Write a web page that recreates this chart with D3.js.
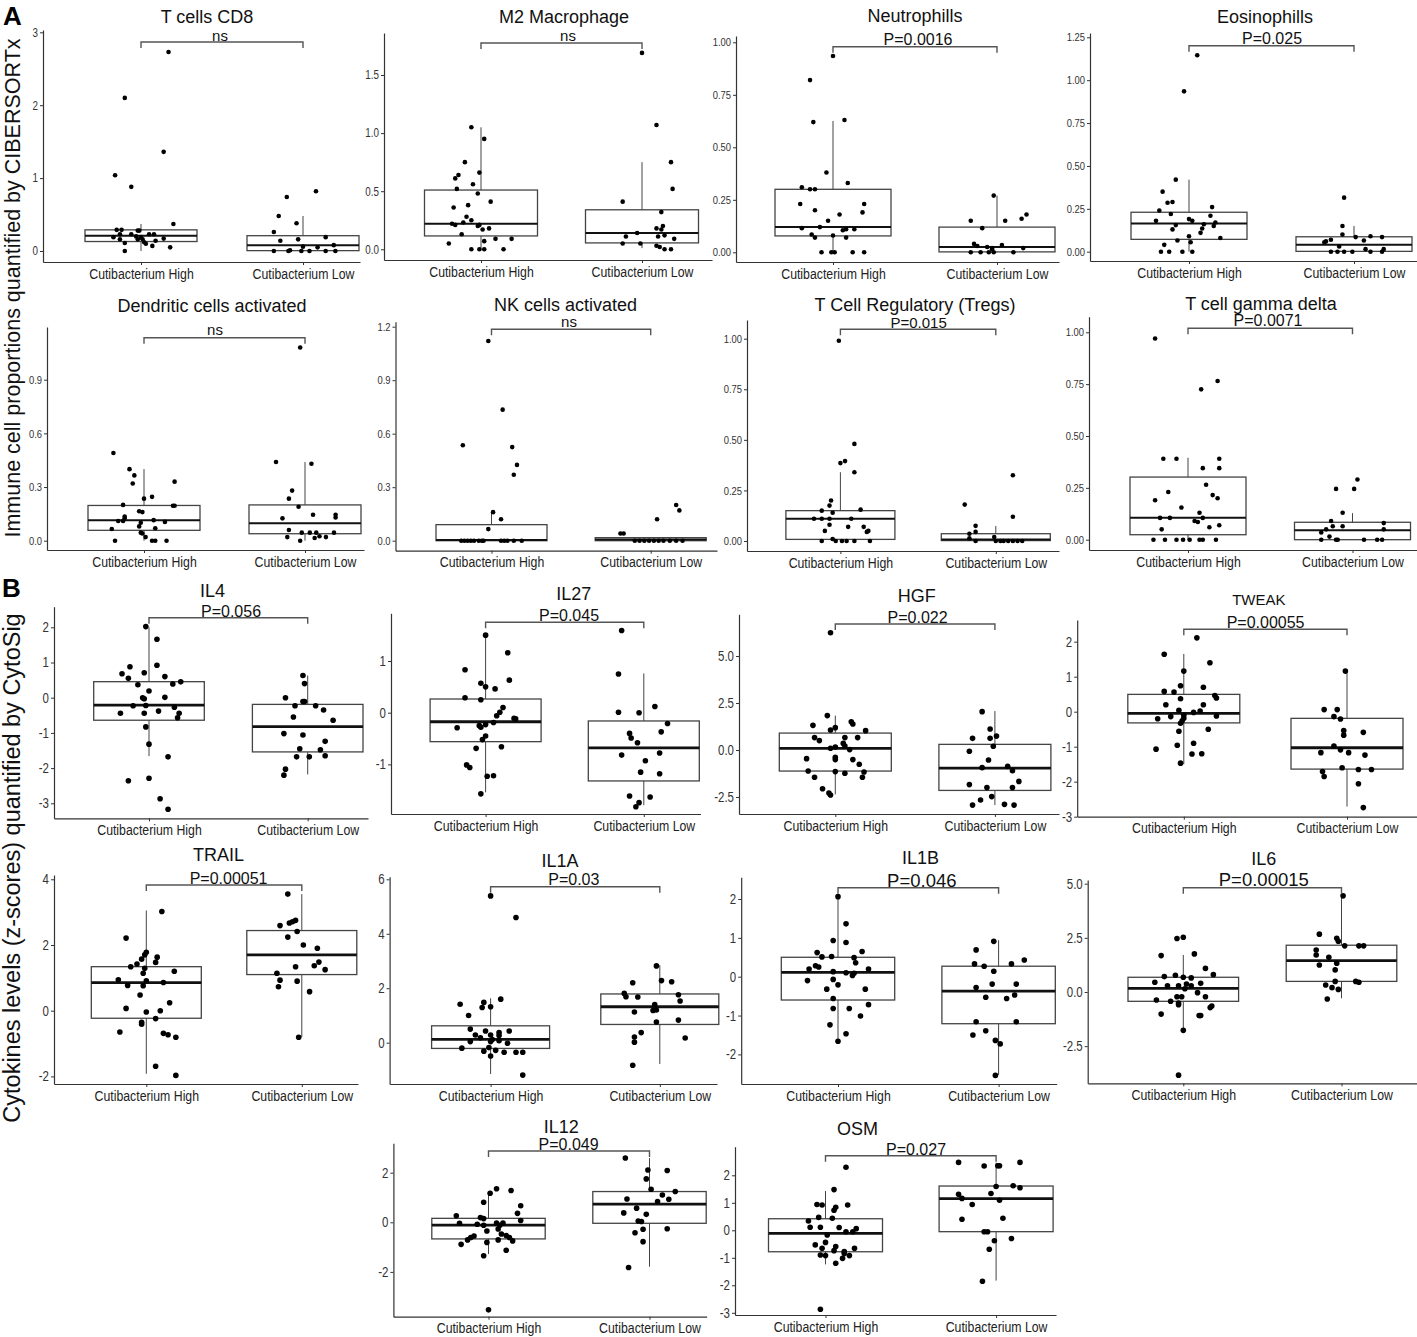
<!DOCTYPE html>
<html><head><meta charset="utf-8">
<script src="https://cdn.jsdelivr.net/npm/d3@7"></script>
<style>body{margin:0;background:#fff}svg{display:block}</style>
</head><body>
<svg id="c" width="1417" height="1337"></svg>
<script>
// ---------------- DATA ----------------
const categories = ["Cutibacterium High", "Cutibacterium Low"];
const panelTitles = ["T cells CD8","M2 Macrophage","Neutrophills","Eosinophills",
  "Dendritic cells activated","NK cells activated","T Cell Regulatory (Tregs)","T cell gamma delta",
  "IL4","IL27","HGF","TWEAK","TRAIL","IL1A","IL1B","IL6","IL12","OSM"];
const pValues = ["ns","ns","P=0.0016","P=0.025","ns","ns","P=0.015","P=0.0071",
  "P=0.056","P=0.045","P=0.022","P=0.00055","P=0.00051","P=0.03","P=0.046","P=0.00015","P=0.049","P=0.027"];
const yAxisTitleA = "Immune cell proportions quantified by CIBERSORTx";
const yAxisTitleB = "Cytokines levels (z-scores) quantified by CytoSig";

// tick values per panel
const cd8Ticks=[0,1,2,3], m2Ticks=[0,0.5,1,1.5], neutTicks=[0,0.25,0.5,0.75,1], eosTicks=[0,0.25,0.5,0.75,1,1.25];
const dendTicks=[0,0.3,0.6,0.9], nkTicks=[0,0.3,0.6,0.9,1.2], tregTicks=[0,0.25,0.5,0.75,1], gdTicks=[0,0.25,0.5,0.75,1];
const il4Ticks=[-3,-2,-1,0,1,2], il27Ticks=[-1,0,1], hgfTicks=[-2.5,0,2.5,5], tweakTicks=[-3,-2,-1,0,1,2];
const trailTicks=[-2,0,2,4], il1aTicks=[0,2,4,6], il1bTicks=[-2,-1,0,1,2], il6Ticks=[-2.5,0,2.5,5];
const il12Ticks=[-2,0,2], osmTicks=[-3,-2,-1,0,1,2];
const tickFormats=["d",".1f",".2f",".2f",".1f",".1f",".2f",".2f","d","d",".1f","d","d","d","d",".1f","d","d"];

// box stats per group: [lower whisker, q1, median, q3, upper whisker]
const cd8Box=[[0,.13,.21,.29,.37],[0,.005,.08,.21,.48]];
const m2Box=[[0,.115,.22,.51,1.05],[.01,.055,.14,.34,.75]];
const neutBox=[[0,.078,.12,.30,.625],[0,.002,.025,.12,.27]];
const eosBox=[[0,.072,.165,.23,.42],[0,.002,.04,.087,.15]];
const dendBox=[[0,.058,.115,.197,.40],[0,.039,.097,.20,.44]];
const nkBox=[[0,0,.004,.09,.16],[0,0,.007,.017,.017]];
const tregBox=[[0,.008,.11,.15,.34],[0,.002,.008,.036,.074]];
const gdBox=[[0,.024,.106,.302,.395],[0,0,.045,.084,.128]];
const il4Box=[[-1.66,-.64,-.21,.455,2.0],[-2.18,-1.54,-.82,-.19,.63]];
const il27Box=[[-1.54,-.56,-.175,.265,1.52],[-1.79,-1.32,-.68,-.16,.76]];
const hgfBox=[[-2.36,-1.12,.09,.9,1.83],[-2.93,-2.15,-.96,.3,2.07]];
const tweakBox=[[-1.5,-.32,-.05,.495,1.65],[-2.71,-1.64,-1.03,-.19,1.17]];
const trailBox=[[-1.92,-.23,.855,1.34,3.05],[-.80,1.10,1.70,2.44,3.55]];
const il1aBox=[[-1.15,-.21,.12,.62,1.63],[-.78,.67,1.32,1.79,2.85]];
const il1bBox=[[-1.67,-.6,.11,.5,2.02],[-2.53,-1.21,-.37,.27,.94]];
const il6Box=[[-1.73,-.43,.17,.68,1.71],[-.29,.49,1.45,2.16,4.44]];
const il12Box=[[-1.28,-.67,-.11,.16,1.17],[-1.79,-.04,.73,1.24,2.59]];
const osmBox=[[-1.24,-.78,-.11,.42,1.43],[-1.83,-.05,1.15,1.61,2.46]];

// points: [jitter offset in category units, value]
const cd8High=[[.17,2.73],[-.10,2.10],[.14,1.36],[-.16,1.04],[-.06,.88],[.20,.37],[-.15,.29],[-.12,.29],[-.02,.28],[-.01,.28],[-.13,.23],[-.06,.23],[.05,.23],[.08,.23],[-.17,.19],[-.03,.20],[0,.19],[.14,.17],[-.13,.16],[-.02,.16],[.01,.16],[.09,.14],[.02,.12],[-.10,.11],[.03,.10],[.07,.07],[.18,.05],[-.10,0]];
const cd8Low=[[.08,.82],[-.10,.74],[-.15,.48],[-.04,.38],[-.18,.26],[-.14,.14],[-.03,.16],[.14,.19],[0,.06],[.09,.05],[.19,.08],[-.18,0],[-.09,0],[-.01,0],[.04,0],[.14,0],[.20,0],[-.08,.01]];
const m2High=[[-.06,1.05],[.02,.95],[-.10,.75],[-.01,.66],[-.14,.64],[-.16,.61],[-.05,.56],[-.15,.52],[-.02,.48],[.06,.41],[-.08,.38],[-.17,.36],[-.09,.28],[-.06,.25],[-.18,.22],[-.16,.21],[-.11,.23],[-.02,.20],[-.01,.21],[.01,.17],[.05,.18],[-.12,.13],[.09,.09],[.19,.09],[.02,.07],[-.20,.05],[-.06,0],[-.01,0],[.02,0],[.14,0]];
const m2Low=[[0,1.69],[.09,1.07],[.18,.75],[.19,.52],[-.12,.41],[.12,.32],[-.03,.14],[-.10,.11],[.09,.18],[.13,.20],[.12,.17],[.14,.12],[.10,.11],[.20,.09],[-.12,.05],[-.01,.05],[.09,.03],[.11,.02],[.14,0],[.18,0]];
const neutHigh=[[0,.935],[-.14,.82],[-.12,.62],[.07,.63],[-.04,.38],[.09,.33],[-.19,.31],[-.14,.30],[-.11,.30],[-.20,.23],[.19,.23],[-.11,.20],[.18,.19],[.04,.18],[-.03,.15],[-.19,.115],[-.08,.12],[.08,.11],[.06,.105],[.13,.11],[-.13,.085],[-.11,.07],[0,.08],[.08,.07],[-.07,0],[-.01,0],[.01,0],[.12,0],[.19,0]];
const neutLow=[[-.02,.27],[-.16,.15],[.05,.15],[.18,.18],[.15,.16],[-.09,.115],[-.14,.04],[-.12,.03],[.03,.035],[-.06,.025],[-.03,.015],[-.03,.02],[.16,.02],[-.16,0],[-.10,0],[-.05,0],[-.02,0],[.10,0]];
const eosHigh=[[.05,1.145],[-.03,.935],[-.08,.42],[-.16,.35],[-.10,.29],[-.13,.285],[-.18,.24],[.14,.26],[-.11,.22],[.13,.21],[-.20,.18],[0,.19],[.02,.18],[.16,.17],[.09,.16],[.15,.15],[-.08,.155],[-.10,.13],[.08,.135],[.07,.11],[.19,.08],[0,.09],[-.07,.065],[.01,.055],[-.15,.04],[-.17,0],[-.12,0],[-.04,0],[.02,0]];
const eosLow=[[-.06,.315],[-.07,.15],[-.07,.10],[.01,.085],[.10,.09],[.17,.085],[-.14,.07],[-.17,.06],[-.18,.055],[.06,.065],[-.09,.03],[-.14,0],[-.10,0],[-.06,0],[-.01,0],[.07,.015],[.10,0],[.18,.015],[.17,0]];
const dendHigh=[[-.19,.49],[-.09,.40],[-.06,.365],[-.07,.32],[.19,.33],[0,.235],[.05,.245],[-.13,.20],[.18,.195],[.19,.195],[-.03,.165],[-.01,.16],[-.12,.135],[-.12,.125],[-.16,.11],[-.13,.11],[.06,.115],[.13,.105],[-.02,.10],[-.03,.08],[-.20,.065],[.07,.07],[-.02,.045],[-.01,.04],[.01,.02],[-.18,0],[.05,0],[.07,0],[.14,0]];
const dendLow=[[-.03,1.08],[-.18,.44],[.04,.43],[-.08,.28],[-.10,.235],[-.04,.19],[.05,.145],[.19,.145],[.19,.13],[-.14,.125],[-.10,.06],[-.02,.045],[.03,.045],[.07,.045],[.18,.045],[-.11,.02],[.09,.025],[.06,.015],[.13,.02],[-.03,0]];
const nkHigh=[[-.02,1.12],[.07,.735],[-.18,.535],[.13,.525],[.16,.425],[.14,.37],[.01,.16],[.06,.12],[-.02,.065],[-.19,0],[-.15,0],[-.11,0],[-.08,0],[-.05,0],[.06,0],[.10,0],[.14,0],[.19,0],[-.17,0],[-.13,0],[-.06,0],[.08,0]];
const nkLow=[[.16,.20],[.18,.17],[.04,.12],[-.19,.04],[-.17,.04],[-.10,0],[-.07,0],[-.04,0],[-.01,0],[.02,0],[.05,0],[.08,0],[.12,0],[.16,0],[.20,0]];
const tregHigh=[[-.01,.99],[.09,.48],[.03,.395],[0,.385],[.09,.34],[-.06,.20],[-.07,.175],[-.12,.15],[.13,.155],[-.05,.14],[-.17,.11],[-.12,.11],[-.07,.11],[.07,.11],[-.07,.08],[.05,.07],[.15,.07],[-.10,.05],[.17,.045],[.18,.05],[-.05,.01],[-.12,0],[-.03,0],[.01,0],[.04,0],[.09,0],[.19,0]];
const tregLow=[[.11,.325],[-.20,.18],[.11,.12],[-.13,.075],[-.17,.036],[-.13,.045],[-.17,.013],[-.01,.02],[-.13,0],[0,0],[.03,0],[.05,0],[.08,0],[.11,0],[.14,0],[.17,0]];
const gdHigh=[[-.20,.97],[.18,.765],[.08,.725],[-.15,.39],[-.07,.39],[.19,.39],[.09,.345],[.19,.345],[.11,.265],[-.12,.23],[.15,.215],[.18,.20],[-.20,.19],[-.04,.155],[.07,.13],[-.17,.105],[-.11,.105],[.09,.105],[.04,.09],[.06,.085],[.19,.07],[.13,.06],[-.16,.05],[-.21,0],[-.14,0],[-.07,0],[-.03,0],[.01,0],[.07,0],[.09,0],[.17,0]];
const gdLow=[[.03,.29],[-.10,.245],[.01,.245],[-.06,.13],[-.13,.09],[.19,.08],[-.12,.065],[-.06,.065],[-.16,.05],[.19,.05],[-.19,.035],[-.14,.015],[-.19,0],[-.10,0],[-.09,0],[.07,0],[.15,0],[.18,0]];
const il4High=[[-.02,2.02],[.05,1.66],[-.12,.88],[.05,.92],[-.17,.68],[-.03,.71],[-.13,.55],[.10,.60],[-.07,.37],[.15,.39],[.20,.45],[0,.19],[-.04,0],[-.03,-.03],[.10,.01],[-.10,-.23],[-.02,-.22],[.16,-.27],[.06,-.38],[-.18,-.44],[-.03,-.44],[.19,-.44],[.18,-.57],[-.02,-.83],[0,-1.32],[.12,-1.68],[0,-2.29],[-.13,-2.36],[.07,-2.87],[.12,-3.17]];
const il4Low=[[-.03,.63],[-.02,.40],[-.14,0],[-.03,-.11],[-.02,-.11],[-.08,-.23],[.05,-.23],[.10,-.35],[-.09,-.55],[.16,-.64],[-.15,-1.02],[-.03,-1.06],[.11,-1.24],[-.05,-1.45],[.08,-1.48],[-.07,-1.68],[.01,-1.68],[.11,-1.65],[-.14,-2.03],[-.15,-2.2]];
const il27High=[[0,1.50],[.14,1.16],[-.13,.83],[.15,.63],[-.03,.57],[0,.50],[.06,.46],[-.13,.29],[-.03,.25],[.11,.10],[.09,.01],[.07,-.06],[.18,-.11],[.19,-.12],[.05,-.19],[0,-.23],[-.04,-.25],[-.03,-.28],[-.18,-.29],[0,-.45],[-.02,-.52],[.10,-.66],[-.06,-.69],[-.12,-1.01],[-.10,-1.06],[.01,-1.23],[.05,-1.22],[-.03,-1.57]];
const il27Low=[[-.14,1.59],[-.16,.75],[-.16,.01],[-.03,0],[.07,.12],[.15,-.21],[.11,-.37],[-.09,-.40],[-.08,-.49],[-.04,-.58],[.10,-.78],[-.14,-.82],[.01,-.93],[-.02,-1.15],[.10,-1.18],[-.09,-1.61],[.04,-1.63],[-.03,-1.74],[-.05,-1.82]];
const hgfHigh=[[-.03,6.24],[-.05,1.83],[-.14,1.31],[.10,1.5],[.11,1.38],[0,1.19],[-.03,1.06],[.19,1.03],[-.13,.66],[-.10,.5],[.06,.66],[.14,.66],[.05,.35],[.06,.21],[-.03,.09],[0,.16],[.09,.02],[-.18,-.46],[0,-.39],[0,-.51],[.11,-.51],[.15,-.76],[-.17,-1.12],[0,-1.15],[.06,-1.24],[.18,-1.17],[-.13,-1.45],[.17,-1.45],[-.08,-2.06],[-.04,-2.29],[-.03,-2.39]];
const hgfLow=[[-.08,2.04],[-.03,1.12],[-.14,.62],[-.03,.62],[.01,.74],[-.01,.20],[-.16,-.07],[-.04,-.53],[-.08,-.94],[.08,-.87],[.11,-1.1],[.15,-1.67],[-.16,-1.84],[-.05,-2.0],[.11,-2.0],[-.02,-2.48],[-.09,-2.66],[-.14,-2.93],[.06,-2.89],[.12,-2.93]];
const tweakHigh=[[.08,2.11],[-.12,1.64],[0,1.16],[.16,1.4],[-.02,.74],[.12,.70],[-.12,.58],[-.06,.56],[.19,.46],[.20,.39],[-.02,.37],[-.11,.2],[.12,.2],[-.03,.04],[.10,.02],[.06,-.02],[0,-.1],[.20,-.12],[-.08,-.14],[-.16,-.2],[0,-.19],[-.01,-.26],[-.02,-.33],[.15,-.5],[-.03,-.56],[.06,-.9],[-.04,-.96],[-.17,-1.07],[.05,-1.21],[.11,-1.2],[-.02,-1.47]];
const tweakLow=[[-.01,1.16],[-.14,.06],[-.06,.06],[-.08,-.14],[-.04,-.21],[-.02,-.54],[.10,-.59],[-.02,-.67],[-.08,-.98],[-.04,-1.09],[-.16,-1.17],[.01,-1.17],[.11,-1.24],[-.03,-1.6],[.07,-1.65],[.15,-1.65],[-.15,-1.71],[-.14,-1.85],[.07,-2.06],[.10,-2.74]];
const trailHigh=[[.10,3.02],[-.13,2.21],[0,1.78],[-.01,1.70],[.07,1.63],[-.03,1.57],[.06,1.47],[-.06,1.42],[-.10,1.34],[-.01,1.29],[.18,1.2],[-.02,1.14],[-.18,.94],[0,.91],[.11,.86],[-.12,.77],[-.02,.76],[-.04,.48],[.15,.24],[-.13,.07],[.09,0],[0,-.04],[.06,-.24],[-.03,-.35],[-.03,-.41],[-.17,-.65],[.11,-.69],[.14,-.73],[.19,-.81],[.06,-1.69],[.19,-1.97]];
const trailLow=[[-.09,3.55],[-.14,2.59],[-.08,2.67],[-.06,2.71],[-.04,2.75],[-.03,2.41],[-.09,2.24],[.01,2.0],[.10,1.90],[.11,1.48],[.08,1.37],[-.04,1.34],[.15,1.25],[-.16,1.14],[-.14,.93],[-.03,.9],[-.15,.73],[.05,.58],[-.02,-.81]];
const il1aHigh=[[0,5.39],[.15,4.6],[.06,1.6],[-.04,1.48],[-.18,1.41],[0,1.32],[-.05,1.29],[-.13,1.0],[-.12,.5],[-.03,.43],[.05,.37],[.11,.43],[-.09,.28],[0,.28],[.05,.26],[-.06,.18],[-.12,.04],[.01,.12],[.05,.07],[0,.04],[.10,-.02],[-.17,-.2],[-.01,-.18],[-.04,-.31],[.03,-.28],[.08,-.35],[.15,-.35],[.19,-.35],[0,-.49],[.19,-1.19]];
const il1aLow=[[-.02,2.82],[-.16,2.2],[.01,2.28],[.07,2.24],[-.21,1.81],[-.13,1.68],[.11,1.76],[-.20,1.69],[-.03,1.4],[.12,1.53],[-.15,1.13],[-.04,1.18],[-.02,1.2],[.11,.83],[-.02,.76],[-.11,.37],[-.15,.21],[.15,.17],[-.15,.02],[-.16,-.83]];
const il1bHigh=[[0,2.06],[.05,1.36],[-.03,.93],[.05,.88],[-.13,.62],[.15,.65],[-.04,.52],[-.10,.51],[.10,.49],[.11,.36],[-.14,.28],[-.12,.25],[-.18,.2],[.19,.2],[-.03,.13],[.05,.1],[.10,.09],[.09,.03],[-.03,-.07],[-.19,-.1],[0,-.21],[-.07,-.32],[.17,-.32],[-.03,-.56],[-.03,-.82],[.19,-.72],[.07,-.82],[.14,-1.01],[-.05,-1.24],[.05,-1.47],[0,-1.66]];
const il1bLow=[[-.03,.91],[-.14,.69],[.16,.43],[-.15,.33],[.08,.33],[-.09,.27],[-.03,.14],[-.04,-.19],[.11,-.19],[-.14,-.28],[.10,-.47],[-.08,-.53],[.05,-.56],[-.14,-1.16],[.11,-1.16],[-.08,-1.39],[-.16,-1.5],[-.02,-1.64],[.01,-1.73],[-.02,-2.54]];
const il6High=[[-.04,2.47],[0,2.53],[-.14,1.68],[.07,1.76],[.14,1.09],[.19,.80],[-.12,.71],[-.05,.77],[0,.68],[.05,.65],[-.18,.45],[.11,.4],[-.10,.29],[-.03,.29],[.02,.37],[.05,.29],[.01,.15],[.09,-.03],[-.04,-.22],[-.01,-.22],[.14,-.22],[-.17,-.37],[-.08,-.43],[-.03,-.51],[-.03,-.59],[.17,-.72],[.18,-.65],[-.14,-1.02],[.10,-1.09],[.11,-1.09],[0,-1.77],[-.03,-3.84]];
const il6Low=[[.01,4.44],[-.14,2.67],[-.03,2.48],[-.02,2.34],[.02,2.13],[.11,2.13],[.14,2.13],[-.16,1.94],[-.16,1.71],[-.08,1.6],[-.14,1.25],[-.03,1.33],[-.04,1.02],[.09,.49],[-.04,.49],[.11,.45],[-.10,.32],[-.06,.2],[-.02,.12],[-.09,-.32]];
const il12High=[[.05,1.35],[.14,1.28],[.01,1.17],[-.03,.81],[.20,.67],[.18,.36],[-.20,.26],[-.05,.19],[-.03,.15],[.20,.07],[-.18,-.04],[.05,-.03],[.09,-.03],[-.07,-.08],[-.03,-.12],[.07,-.12],[.06,-.27],[-.01,-.35],[.08,-.47],[.11,-.53],[.13,-.61],[-.11,-.61],[-.09,-.55],[-.13,-.71],[.06,-.71],[.15,-.75],[-.01,-.81],[-.17,-.89],[.11,-1.13],[-.03,-1.35],[0,-3.53]];
const il12Low=[[-.15,2.59],[-.01,2.11],[.11,2.09],[-.02,1.75],[.01,1.33],[.16,1.24],[.08,1.10],[-.14,.94],[.12,.93],[.05,.84],[-.08,.57],[-.16,.38],[-.02,.32],[-.07,.05],[-.05,.03],[.11,-.26],[-.04,-.28],[-.09,-.42],[-.04,-.78],[-.13,-1.82]];
const osmHigh=[[.12,2.29],[.05,1.48],[-.05,.94],[-.02,.92],[.13,.92],[.06,.84],[.05,.73],[-.04,.47],[.04,.44],[-.10,.34],[-.03,.11],[-.09,.11],[.08,.1],[.18,.06],[.16,-.05],[.12,-.05],[.01,-.17],[0,-.44],[-.06,-.53],[.06,-.59],[.17,-.65],[-.02,-.65],[.05,-.74],[.11,-.77],[.11,-.84],[-.03,-.9],[0,-.92],[.14,-.92],[.10,-1.02],[.06,-1.2],[-.03,-2.87]];
const osmLow=[[-.22,2.47],[.14,2.47],[-.07,2.34],[.01,2.35],[.02,2.35],[.10,1.62],[.14,1.55],[0,1.59],[-.22,1.31],[-.03,1.34],[-.20,1.16],[.02,1.09],[-.14,.94],[-.20,.4],[.04,.44],[-.07,-.05],[-.05,-.05],[-.01,-.38],[.09,-.3],[-.04,-.69],[-.08,-1.85]];

const panelHigh=[cd8High,m2High,neutHigh,eosHigh,dendHigh,nkHigh,tregHigh,gdHigh,il4High,il27High,hgfHigh,tweakHigh,trailHigh,il1aHigh,il1bHigh,il6High,il12High,osmHigh];
const panelLow=[cd8Low,m2Low,neutLow,eosLow,dendLow,nkLow,tregLow,gdLow,il4Low,il27Low,hgfLow,tweakLow,trailLow,il1aLow,il1bLow,il6Low,il12Low,osmLow];
const panelBox=[cd8Box,m2Box,neutBox,eosBox,dendBox,nkBox,tregBox,gdBox,il4Box,il27Box,hgfBox,tweakBox,trailBox,il1aBox,il1bBox,il6Box,il12Box,osmBox];
const panelTicks=[cd8Ticks,m2Ticks,neutTicks,eosTicks,dendTicks,nkTicks,tregTicks,gdTicks,il4Ticks,il27Ticks,hgfTicks,tweakTicks,trailTicks,il1aTicks,il1bTicks,il6Ticks,il12Ticks,osmTicks];

// ---------------- LAYOUT (pixels) ----------------
const layout=[
 {ax:43,axEnd:360,bottom:262,top:30,cH:141,cL:303,half:56,v0:0,p0:251,v1:3,p1:32.3,tx:207,ty:17,ts:18,px:220,py:36,ps:15,br:42,tk:12,med:2,r:2.3},
 {ax:384,axEnd:712,bottom:260,top:33,cH:481,cL:642,half:56.5,v0:0,p0:249.3,v1:1.5,p1:75,tx:564,ty:17,ts:18,px:568,py:36,ps:15,br:43,tk:12,med:2,r:2.3},
 {ax:736,axEnd:1059,bottom:262,top:36,cH:833,cL:997,half:58,v0:0,p0:252.3,v1:1,p1:42.3,tx:915,ty:16,ts:18,px:918,py:39,ps:16,br:46.7,tk:11.5,med:2,r:2.3},
 {ax:1090,axEnd:1417,bottom:261,top:33,cH:1189,cL:1354,half:58,v0:0,p0:251.7,v1:1.25,p1:37.3,tx:1265,ty:17,ts:18,px:1272,py:38.7,ps:16,br:45.7,tk:11.5,med:2,r:2.3},
 {ax:47,axEnd:364,bottom:550,top:327,cH:144,cL:305,half:56,v0:0,p0:540.7,v1:0.9,p1:379.7,tx:212,ty:305.7,ts:18,px:215,py:330,ps:15,br:337.7,tk:11.5,med:2,r:2.3},
 {ax:395.5,axEnd:717,bottom:550.7,top:321.7,cH:491.5,cL:650.7,half:55.5,v0:0,p0:540.7,v1:1.2,p1:326.7,tx:565.6,ty:305,ts:18,px:569,py:322,ps:15,br:329.3,tk:11.5,med:2,r:2.3},
 {ax:747,axEnd:1059,bottom:551,top:320,cH:840.4,cL:995.8,half:54.5,v0:0,p0:541,v1:1,p1:338.7,tx:915,ty:305,ts:18,px:918.6,py:322.7,ps:15,br:329.3,tk:11.5,med:2,r:2.3},
 {ax:1089,axEnd:1417,bottom:550,top:316.7,cH:1188,cL:1352.5,half:58,v0:0,p0:539.7,v1:1,p1:332.3,tx:1261,ty:303.3,ts:18,px:1268,py:320.7,ps:16,br:328.3,tk:11.5,med:2,r:2.3},
 {ax:54,axEnd:368,bottom:818.3,top:606.7,cH:149,cL:307.7,half:55.3,v0:0,p0:697.7,v1:2,p1:627.3,tx:212.6,ty:590.7,ts:18,px:231,py:611.7,ps:16,br:617.7,tk:14,med:2.8,r:2.8},
 {ax:391,axEnd:700.5,bottom:814,top:613.3,cH:485.6,cL:643.8,half:55.5,v0:0,p0:712.7,v1:1,p1:661,tx:573.8,ty:594,ts:18,px:569,py:615,ps:16,br:622.3,tk:14,med:2.8,r:2.8},
 {ax:739,axEnd:1059,bottom:814,top:614.3,cH:835.3,cL:994.9,half:56,v0:0,p0:750,v1:5,p1:656,tx:916.7,ty:596,ts:18,px:917.6,py:617.3,ps:16,br:624,tk:14,med:2.8,r:2.8},
 {ax:1077.2,axEnd:1417,bottom:816.7,top:620,cH:1183.8,cL:1347,half:56,v0:0,p0:711.7,v1:2,p1:641.7,tx:1258.8,ty:600,ts:15,px:1265.6,py:622.7,ps:16,br:629.3,tk:14,med:2.8,r:2.8},
 {ax:54,axEnd:358,bottom:1084,top:875,cH:146.3,cL:301.8,half:55,v0:0,p0:1010.7,v1:4,p1:879.3,tx:218.6,ty:855,ts:18,px:228.6,py:878.3,ps:16,br:885,tk:14,med:2.8,r:2.8},
 {ax:389.6,axEnd:717,bottom:1084,top:876.7,cH:490.6,cL:659.8,half:59,v0:0,p0:1042.7,v1:6,p1:879.3,tx:560,ty:860.7,ts:18,px:573.8,py:879.3,ps:16,br:886.7,tk:14,med:2.8,r:2.8},
 {ax:741.2,axEnd:1056.7,bottom:1084,top:877.3,cH:838,cL:998.6,half:56.7,v0:0,p0:976.7,v1:2,p1:899,tx:920.4,ty:857.3,ts:18,px:921.8,py:880.7,ps:18.5,br:887.7,tk:14,med:2.8,r:2.8},
 {ax:1087.7,axEnd:1417,bottom:1083.3,top:880,cH:1183.3,cL:1341.5,half:55.3,v0:0,p0:992,v1:5,p1:883.7,tx:1263.8,ty:859,ts:18,px:1263.8,py:880,ps:18.5,br:887.7,tk:14,med:2.8,r:2.8},
 {ax:393.4,axEnd:706.7,bottom:1316.7,top:1143.3,cH:488.5,cL:649.5,half:56.7,v0:0,p0:1222.3,v1:2,p1:1172.7,tx:561.2,ty:1126.7,ts:18,px:568.6,py:1144,ps:16,br:1151,tk:14,med:2.8,r:2.8},
 {ax:735,axEnd:1056,bottom:1315,top:1146.7,cH:825.5,cL:996.1,half:57,v0:0,p0:1230.3,v1:2,p1:1175.3,tx:857.5,ty:1128.3,ts:18,px:916,py:1149,ps:16,br:1155.7,tk:14,med:2.8,r:2.8}
];

// ---------------- DRAW ----------------
const svg = d3.select("#c");
const REG = "'Liberation Sans', Arial, sans-serif";
const NAR = "'Liberation Sans Narrow', 'Arial Narrow', sans-serif";
function textW(font, s, size){
  const t = svg.append("text").style("font-family",font).style("font-size",size+"px").text(s);
  const w = t.node().getComputedTextLength(); t.remove(); return w;
}
const narrowOK = textW(NAR,"Cutibacterium High",16) < 0.9*textW(REG,"Cutibacterium High",16);
// condensed look: real narrow font if installed, else horizontal scale about the text anchor
function narrow(sel){
  if (narrowOK) { sel.style("font-family", NAR); return; }
  sel.style("font-family", REG).each(function(){
    const ax = +(this.getAttribute("x") || 0);
    d3.select(this).attr("transform", `translate(${ax},0) scale(0.82,1) translate(${-ax},0)`);
  });
}
const loc = d3.formatLocale({decimal:".",thousands:",",grouping:[3],currency:["",""],minus:"-"});

panelTitles.forEach((title,i)=>{
  const L = layout[i];
  const y = d3.scaleLinear().domain([L.v0,L.v1]).range([L.p0,L.p1]);
  const yAx = y.copy().domain([y.invert(L.bottom), y.invert(L.top)]).range([L.bottom, L.top]);
  const x = d3.scaleLinear().domain([0,1]).range([L.cH,L.cL]);
  const xAx = x.copy().domain([x.invert(L.ax), x.invert(L.axEnd)]).range([L.ax, L.axEnd]);
  const w = L.half/(L.cL-L.cH);
  const g = svg.append("g");

  [panelHigh[i], panelLow[i]].forEach((pts,ci)=>{
    const b = panelBox[i][ci];
    g.append("line").attr("x1",x(ci)).attr("x2",x(ci)).attr("y1",y(b[0])).attr("y2",y(b[4]))
      .attr("stroke","#444").attr("stroke-width",1);
    g.append("rect").attr("x",x(ci-w)).attr("width",x(ci+w)-x(ci-w))
      .attr("y",y(b[3])).attr("height",Math.max(0.5,y(b[1])-y(b[3])))
      .attr("fill","#fff").attr("stroke","#444").attr("stroke-width",1.3);
    g.append("line").attr("x1",x(ci-w)).attr("x2",x(ci+w)).attr("y1",y(b[2])).attr("y2",y(b[2]))
      .attr("stroke","#111").attr("stroke-width",L.med);
    g.append("g").selectAll("circle").data(pts).join("circle")
      .attr("cx",d=>x(ci+d[0])).attr("cy",d=>y(d[1])).attr("r",L.r).attr("fill","#000");
  });

  const gy = g.append("g").attr("transform",`translate(${L.ax},0)`)
    .call(d3.axisLeft(yAx).tickValues(panelTicks[i]).tickFormat(loc.format(tickFormats[i]))
      .tickSizeInner(3).tickSizeOuter(0).tickPadding(2));
  gy.select(".domain").attr("stroke","#333").attr("stroke-width",1.2);
  gy.selectAll(".tick line").attr("stroke","#333");
  gy.selectAll(".tick text").attr("fill","#333").style("font-size",L.tk+"px").call(narrow);

  const gx = g.append("g").attr("transform",`translate(0,${L.bottom})`)
    .call(d3.axisBottom(xAx).tickValues([0,1]).tickFormat(d=>categories[d])
      .tickSizeInner(3).tickSizeOuter(0).tickPadding(3));
  gx.select(".domain").attr("stroke","#333").attr("stroke-width",1.2);
  gx.selectAll(".tick line").attr("stroke","#333");
  gx.selectAll(".tick text").attr("fill","#222").style("font-size","15px").call(narrow);

  g.append("path").attr("d",`M${x(0)},${L.br+6}V${L.br}H${x(1)}V${L.br+6}`)
    .attr("fill","none").attr("stroke","#555").attr("stroke-width",1.4);
  g.append("text").attr("x",L.px).attr("y",L.py).attr("dy","0.35em").attr("text-anchor","middle")
    .style("font-family",REG).style("font-size",L.ps+"px").attr("fill","#111").text(pValues[i]);
  g.append("text").attr("x",L.tx).attr("y",L.ty).attr("dy","0.35em").attr("text-anchor","middle")
    .style("font-family",REG).style("font-size",L.ts+"px").attr("fill","#111").text(title);
});

svg.append("text").attr("x",3).attr("y",25).style("font-family",REG).style("font-weight","bold")
  .style("font-size","26px").text("A");
svg.append("text").attr("x",2).attr("y",597).style("font-family",REG).style("font-weight","bold")
  .style("font-size","26px").text("B");
svg.append("text").attr("transform","translate(20,288) rotate(-90)").attr("text-anchor","middle")
  .style("font-family",REG).style("font-size","21.5px").attr("fill","#111").text(yAxisTitleA);
svg.append("text").attr("transform","translate(20,868) rotate(-90)").attr("text-anchor","middle")
  .style("font-family",REG).style("font-size","23.5px").attr("fill","#111").text(yAxisTitleB);
</script>
</body></html>
